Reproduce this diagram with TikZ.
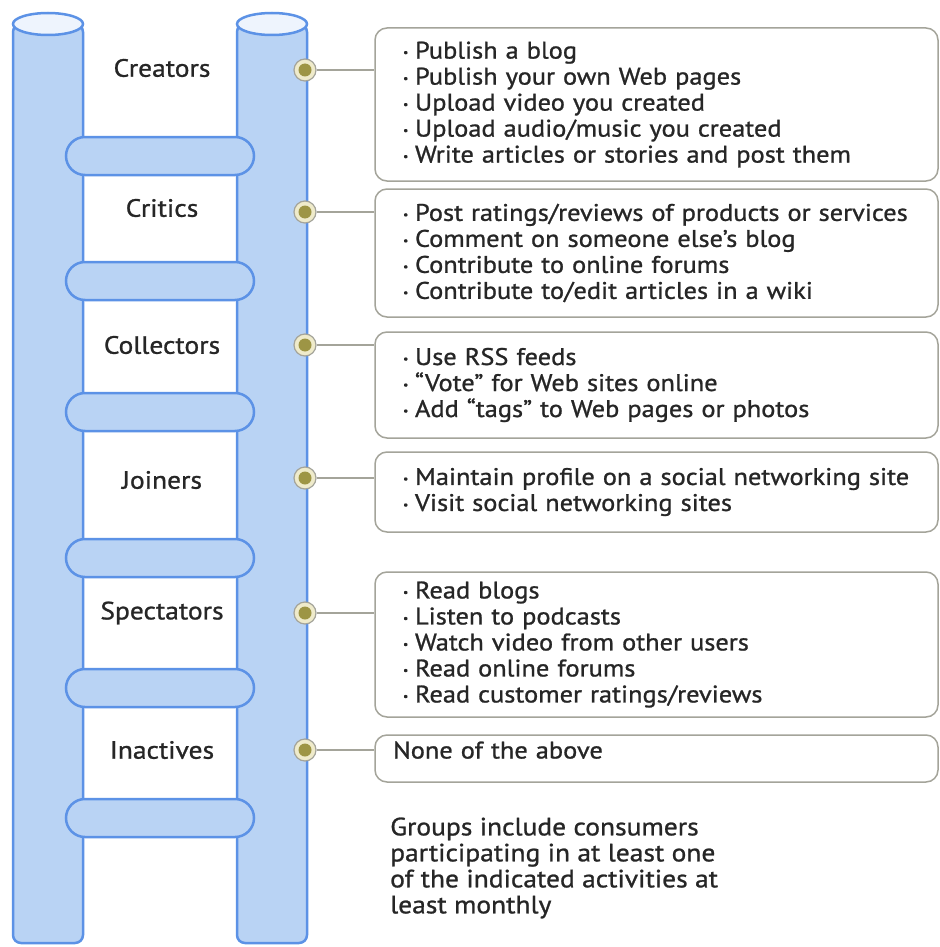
\documentclass[tikz,border=0pt]{standalone}
\usepackage{fontspec}
\setmainfont{PT Sans}[FakeStretch=1.1, FakeBold=1]
\usepackage{tikz}
\usetikzlibrary{positioning}

\definecolor{poleblue}{HTML}{B9D3F4}
\definecolor{poletop}{HTML}{EEF4FD}
\definecolor{poleline}{HTML}{5C92E6}
\definecolor{boxline}{HTML}{A4A49A}
\definecolor{knobring}{HTML}{EFEBCB}
\definecolor{knobcore}{HTML}{9D9545}
\definecolor{inktext}{HTML}{262626}

\newcommand{\blt}{\makebox[12pt][l]{\raisebox{2.5pt}{\fontsize{11}{11}\selectfont\textbullet}}}

\tikzset{
  pole/.style={fill=poleblue, draw=poleline, line width=2.5pt},
  rung/.style={fill=poleblue, draw=poleline, line width=2.5pt, rounded corners=19pt},
  rank/.style={font=\fontsize{25}{26}\selectfont, text=inktext},
  knob/.style={circle, draw=boxline, fill=knobring, line width=1.2pt,
    minimum size=22pt, inner sep=0pt,
    path picture={\fill[knobcore] (path picture bounding box.center) circle (6.5pt);}},
  activity/.style={draw=boxline, line width=1.5pt, rounded corners=12pt, fill=white,
    align=left, text=inktext, font=\fontsize{24}{26}\selectfont,
    inner xsep=28pt, text width=507pt, inner ysep=0pt},
  link/.style={draw=boxline, line width=1.2pt},
}

\begin{document}
\begin{tikzpicture}[x=1pt,y=-1pt]
\useasboundingbox[fill=white] (0,0) rectangle (939,947);

% ladder poles
\path[pole, rounded corners=8pt] (13,24) -- (13,943) -- (83,943) -- (83,24) -- cycle;
\draw[pole, fill=poletop] (48,24) ellipse [x radius=35, y radius=11];
\path[pole, rounded corners=8pt] (237,24) -- (237,943) -- (307,943) -- (307,24) -- cycle;
\draw[pole, fill=poletop] (272,24) ellipse [x radius=35, y radius=11];

% rungs
\foreach \ry in {156,281,412,558,688,818}
  \draw[rung] (66,\ry-19) rectangle (254,\ry+19);

% group names
\node[rank] (creators) at (162,68) {Creators};
\node[rank] (critics) at (162,208) {Critics};
\node[rank] (collectors) at (162,345) {Collectors};
\node[rank] (joiners) at (162,480) {Joiners};
\node[rank] (spectators) at (162,613) {Spectators};
\node[rank] (inactives) at (162,750) {Inactives};

% knobs on the right pole
\node[knob] (kcreators) at (305,70) {};
\node[knob] (kcritics) at (305,212) {};
\node[knob] (kcollectors) at (305,345) {};
\node[knob] (kjoiners) at (305,478) {};
\node[knob] (kspectators) at (305,613) {};
\node[knob] (kinactives) at (305,750) {};

% activity boxes
\node[activity, minimum height=153pt] (bcreators) at (656.5,104.5)
  {\blt Publish a blog\\ \blt Publish your own Web pages\\ \blt Upload video you created\\
   \blt Upload audio/music you created\\ \blt Write articles or stories and post them};
\node[activity, minimum height=128pt] (bcritics) at (656.5,253)
  {\blt Post ratings/reviews of products or services\\ \blt Comment on someone else's blog\\
   \blt Contribute to online forums\\ \blt Contribute to/edit articles in a wiki};
\node[activity, minimum height=106pt] (bcollectors) at (656.5,385)
  {\blt Use RSS feeds\\ \blt ``Vote'' for Web sites online\\ \blt Add ``tags'' to Web pages or photos};
\node[activity, minimum height=80pt] (bjoiners) at (656.5,492)
  {\blt Maintain profile on a social networking site\\ \blt Visit social networking sites};
\node[activity, minimum height=145pt] (bspectators) at (656.5,644.5)
  {\blt Read blogs\\ \blt Listen to podcasts\\ \blt Watch video from other users\\
   \blt Read online forums\\ \blt Read customer ratings/reviews};
\node[activity, minimum height=47pt, inner xsep=18pt, text width=527pt,
  text height=12pt, text depth=12pt] (binactives) at (656.5,758.5) {None of the above};

% connectors
\foreach \g in {creators,critics,collectors,joiners,spectators,inactives}
  \draw[link] (k\g) -- (k\g -| b\g.west);

\node[anchor=west, align=left, inner sep=0pt, text=inktext, font=\fontsize{25}{26}\selectfont]
  (note) at (390,868) {Groups include consumers\\ participating in at least one\\
  of the indicated activities at\\ least monthly};
\end{tikzpicture}
\end{document}
